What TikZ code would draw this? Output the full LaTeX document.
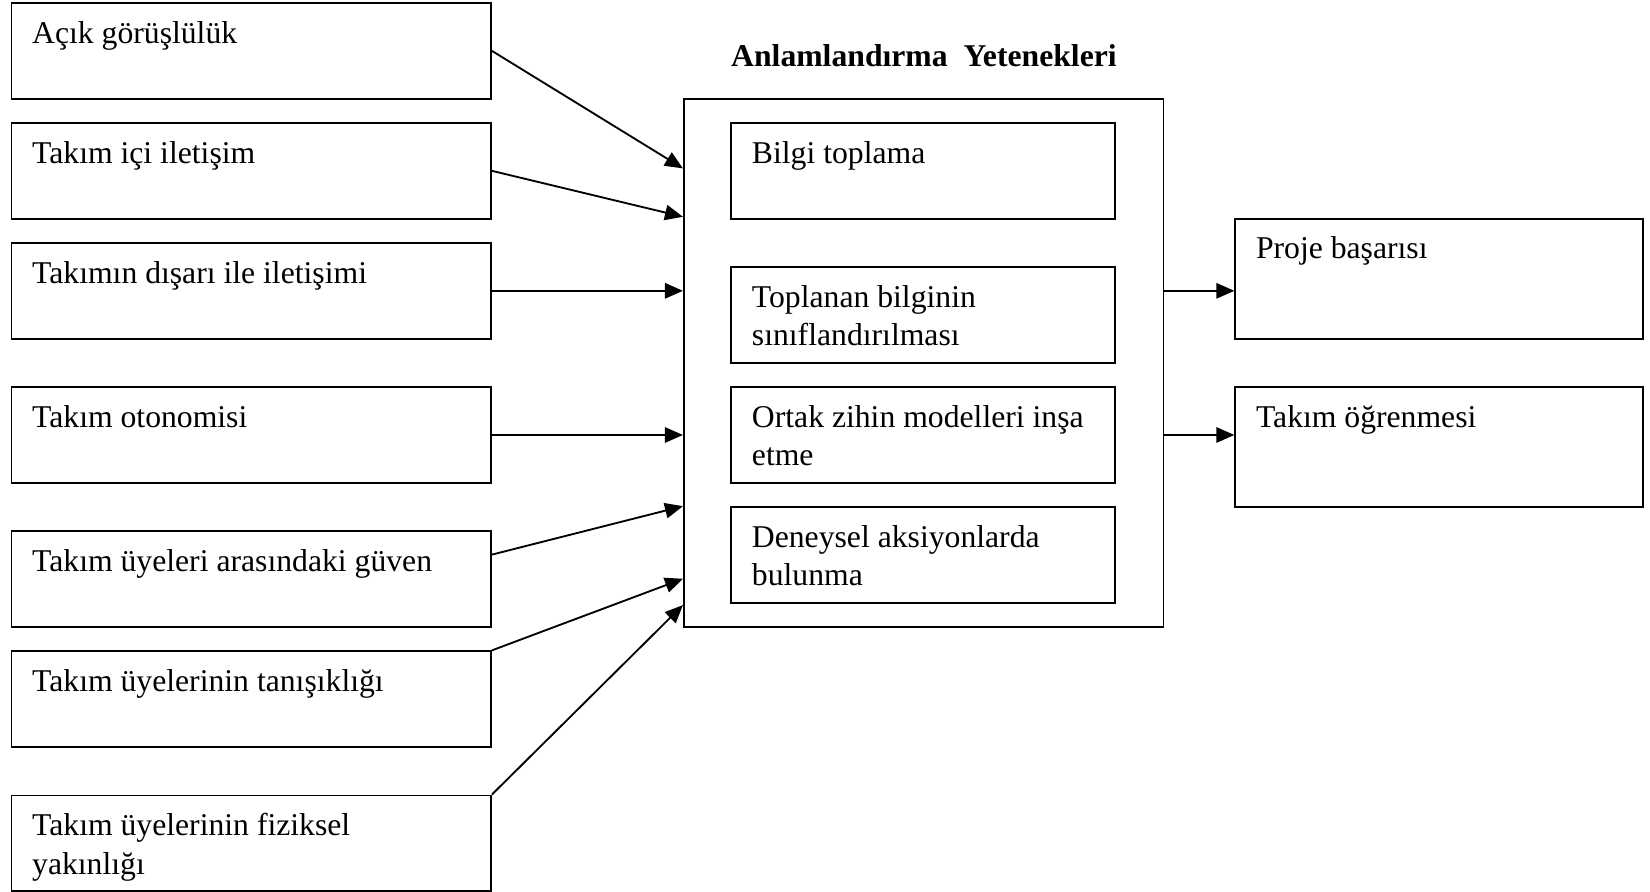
\documentclass[tikz,border=0pt]{standalone}
\usepackage{fontspec}
\setmainfont{Liberation Serif}
\usetikzlibrary{arrows.meta, positioning}
\tikzset{
  factor/.style={draw, line width=0.7pt, anchor=north west, inner sep=0pt,
    minimum width=6.384cm, minimum height=1.274cm, label={[boxtext]north west:{#1}}},
  skill/.style={factor=#1, minimum width=5.11cm},
  outcome/.style={factor=#1, minimum width=5.432cm, minimum height=1.596cm},
  boxtext/.style={anchor=north west, inner sep=0pt, align=left, xshift=8pt, yshift=-7pt},
  mainedge/.style={-{Triangle[length=6.8pt,width=5.8pt]}, line width=0.7pt}
}

\begin{document}
\begin{tikzpicture}[x=0.014cm, y=-0.014cm, font=\fontsize{12}{14.5}\selectfont]
\useasboundingbox (0,0) rectangle (1568,847);
% left column
\node[factor={Açık görüşlülük}] (f1) at (10,2) {};
\node[factor={Takım içi iletişim}] (f2) at (10,116) {};
\node[factor={Takımın dışarı ile iletişimi}] (f3) at (10,230) {};
\node[factor={Takım otonomisi}] (f4) at (10,367) {};
\node[factor={Takım üyeleri arasındaki güven}] (f5) at (10,504) {};
\node[factor={Takım üyelerinin tanışıklığı}] (f6) at (10,618) {};
\node[factor={Takım üyelerinin fiziksel\\yakınlığı}] (f7) at (10,755) {};
% middle column
\node[font=\fontsize{12}{14.5}\selectfont\bfseries] (title) at (878,53) {Anlamlandırma\ \ Yetenekleri};
\node[draw, line width=0.7pt, anchor=north west, inner sep=0pt,
  minimum width=6.384cm, minimum height=7.028cm] (sense) at (649,93) {};
\node[skill={Bilgi toplama}] (s1) at (694,116) {};
\node[skill={Toplanan bilginin\\sınıflandırılması}] (s2) at (694,253) {};
\node[skill={Ortak zihin modelleri inşa\\etme}] (s3) at (694,367) {};
\node[skill={Deneysel aksiyonlarda\\bulunma}] (s4) at (694,481) {};
% right column
\node[outcome={Proje başarısı}] (o1) at (1173,207) {};
\node[outcome={Takım öğrenmesi}] (o2) at (1173,367) {};
% arrow ends on the big box
\coordinate (in1) at (649,160);
\coordinate (in2) at (649,206);
\coordinate (in5) at (649,481);
\coordinate (in6) at (649,550);
\coordinate (in7) at (649,575);
% inputs
\draw[mainedge] (f1.east) -- (in1);
\draw[mainedge] (f2.east) -- (in2);
\draw[mainedge] (f3.east) -- (sense.west |- f3.east);
\draw[mainedge] (f4.east) -- (sense.west |- f4.east);
\draw[mainedge] ([yshift=9.3pt]f5.east) -- (in5);
\draw[mainedge] (f6.north east) -- (in6);
\draw[mainedge] (f7.north east) -- (in7);
% outputs
\draw[mainedge] (sense.east |- f3.east) -- (o1.west |- f3.east);
\draw[mainedge] (sense.east |- f4.east) -- (o2.west |- f4.east);
\end{tikzpicture}
\end{document}
